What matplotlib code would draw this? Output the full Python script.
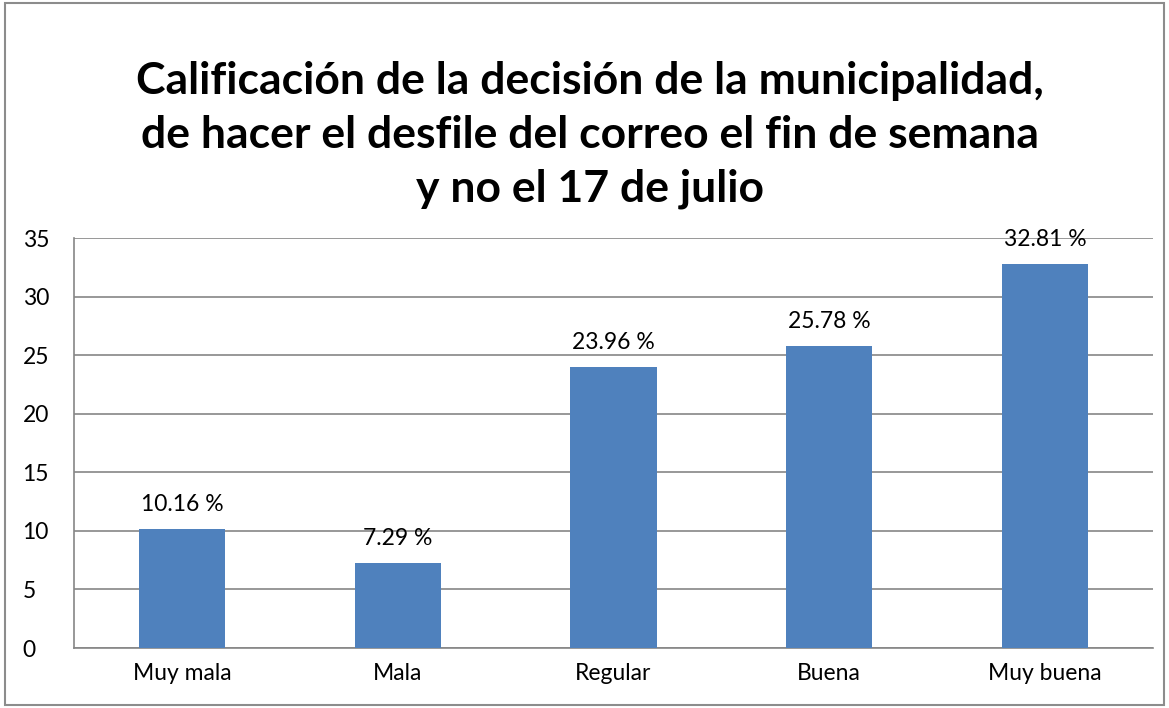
import matplotlib
matplotlib.use("Agg")
import matplotlib.pyplot as plt
from matplotlib.patches import Rectangle

categories = ["Muy mala", "Mala", "Regular", "Buena", "Muy buena"]
values = [10.16, 7.29, 23.96, 25.78, 32.81]
labels = ["10.16 %", "7.29 %", "23.96 %", "25.78 %", "32.81 %"]
yticks = [0, 5, 10, 15, 20, 25, 30, 35]
title = ("Calificación de la decisión de la municipalidad,\n"
         "de hacer el desfile del correo el fin de semana\n"
         "y no el 17 de julio")

plt.rcParams['font.family'] = ['Lato', 'DejaVu Sans']

fig = plt.figure(figsize=(11.69, 7.08), dpi=100)
fig.patches.append(Rectangle((0.004, 0.004), 0.992, 0.992, transform=fig.transFigure,
                             fill=False, edgecolor="#8c8c8c", linewidth=1.5))

ax = fig.add_axes([0.0633, 0.0847, 0.9230, 0.5791])
x = range(len(categories))
ax.bar(x, values, width=0.4, color="#4F81BD", zorder=3)
for xi, v, lab in zip(x, values, labels):
    ax.text(xi, v + 1.2, lab, ha="center", va="bottom", fontsize=16.5, color="#000000")

ax.set_xlim(-0.5, len(categories) - 0.5)
ax.set_ylim(0, 35)
ax.set_yticks(yticks)
ax.set_xticks(list(x))
ax.set_xticklabels(categories)
ax.tick_params(axis="both", length=0, labelsize=16.5, colors="#000000")
ax.tick_params(axis="x", pad=11)
ax.tick_params(axis="y", pad=37)
for t in ax.get_yticklabels():
    t.set_horizontalalignment("left")
ax.yaxis.grid(True, color="#868686", linewidth=1.2, zorder=0)
for s in ["top", "right"]:
    ax.spines[s].set_visible(False)
for s in ["left", "bottom"]:
    ax.spines[s].set_color("#868686")
    ax.spines[s].set_linewidth(1.2)

fig.text(0.505, 0.705, title, ha="center", va="bottom", fontsize=32,
         fontweight="bold", linespacing=1.42)

fig.savefig("out.png", dpi=100)
